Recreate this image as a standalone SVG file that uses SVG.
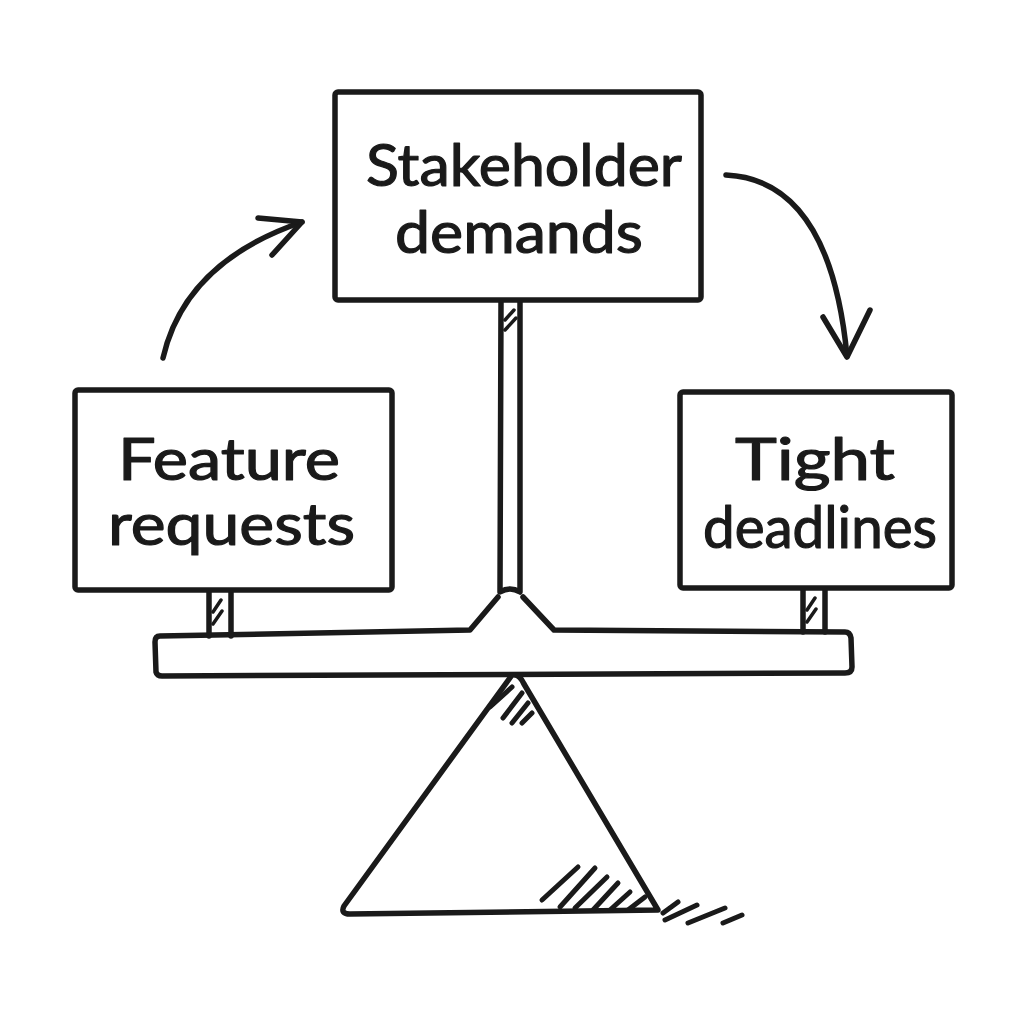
<svg xmlns="http://www.w3.org/2000/svg" width="1024" height="1024" viewBox="0 0 1024 1024">
<style>
.s{fill:none;stroke:#1a1a1a;stroke-width:5.5;stroke-linecap:round;stroke-linejoin:round}
.box{fill:#fff;stroke:#1a1a1a;stroke-width:5.5;stroke-linejoin:round}
.h{stroke:#1a1a1a;stroke-width:5;stroke-linecap:round}
.t{font-family:"Lato","Noto Sans",sans-serif;font-size:58px;fill:#1a1a1a;stroke:#1a1a1a;stroke-width:1.2;stroke-linejoin:round}
</style>
<rect width="1024" height="1024" fill="#fff"/>
<g id="scale">
<path class="s" d="M501,302 L500,592 Q510,586 520,592 L520,302"/>
<path class="s" d="M498,597 L470,630 L160,636 Q155,636 155,642 L156,672 Q157,676 162,676 L845,673 Q852,673 852,667 L851,638 Q850,632 845,632 L554,630 L523,597"/>
<path class="s" d="M209,590 L209,636 M231,590 L231,636"/>
<path class="s" d="M803,588 L803,632 M825,588 L825,632"/>
<path class="h" style="stroke-width:3.5" d="M213,612 L221,600 M213,624 L222,611 M807,610 L815,598 M807,622 L816,609 M505,320 L514,310 M505,330 L516,318"/>
<path class="s" d="M512,675 L344,906 Q340,914 350,914 L658,910 L524,684 Q519,673 512,675 Z"/>
<path class="h" d="M490,707 L512,687 M503,718 L522,693 M512,723 L528,703 M522,723 L532,713"/>
<path class="h" d="M542,900 L578,867 M560,907 L595,868 M575,908 L607,877 M593,910 L618,883 M610,910 L630,892 M628,910 L645,897 M663,913 L678,902 M665,920 L697,905 M688,923 L725,908 M723,923 L742,915"/>
</g>
<g id="node-stakeholder">
<rect class="box" x="335" y="92" width="366" height="208" rx="3"/>
<text class="t" x="366" y="186" textLength="316" lengthAdjust="spacingAndGlyphs">Stakeholder</text>
<text class="t" x="395" y="253" textLength="248" lengthAdjust="spacingAndGlyphs">demands</text>
</g>
<g id="node-feature">
<rect class="box" x="75" y="390" width="317" height="200" rx="3"/>
<text class="t" x="118" y="480" textLength="222" lengthAdjust="spacingAndGlyphs">Feature</text>
<text class="t" x="108" y="545" textLength="247" lengthAdjust="spacingAndGlyphs">requests</text>
</g>
<g id="node-deadlines">
<rect class="box" x="680" y="392" width="272" height="196" rx="3"/>
<text class="t" x="735" y="480" textLength="160" lengthAdjust="spacingAndGlyphs">Tight</text>
<text class="t" x="703" y="548" textLength="234" lengthAdjust="spacingAndGlyphs">deadlines</text>
</g>
<g id="connectors">
<path class="s" d="M163,358 Q185,262 302,222"/>
<path class="s" d="M258,218 L302,222 L272,255"/>
<path class="s" d="M726,175 Q830,180 847,356"/>
<path class="s" d="M823,317 L847,357 L870,310"/>
</g>
</svg>
